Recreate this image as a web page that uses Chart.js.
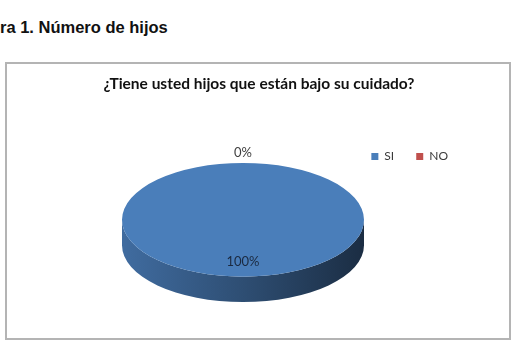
<!DOCTYPE html>
<html lang="es">
<head>
<meta charset="utf-8">
<title>Número de hijos</title>
<script src="https://cdn.jsdelivr.net/npm/chart.js@4.4.1/dist/chart.umd.min.js"></script>
<style>
  body { margin: 0; background: #fff; width: 516px; height: 342px; overflow: hidden; position: relative; }
  #caption { position: absolute; left: 0; top: 17px; font: bold 16.5px/20px "Liberation Sans", Arial, sans-serif; color: #111; white-space: nowrap; }
  #frame { position: absolute; left: 5px; top: 62px; width: 506px; height: 278px; box-sizing: border-box; border: 2px solid #b4b4b4; }
  #frame canvas { display: block; }
</style>
</head>
<body>
<div id="caption">ra 1. Número de hijos</div>
<div id="frame"><canvas id="hijosChart" width="502" height="274"></canvas></div>
<script>
const categories = ['SI', 'NO'];
const percentages = [100, 0];
const sliceColors = ['#4a7eba', '#c0504d'];
const chartTitle = '¿Tiene usted hijos que están bajo su cuidado?';

// Excel-like tilt: height of the top face and of the rim, relative to its width
const TILT = 0.47;
const DEPTH = 0.21;

function shade(hex, k) {
    const n = parseInt(hex.slice(1), 16);
    const r = Math.round(((n >> 16) & 255) * k);
    const g = Math.round(((n >> 8) & 255) * k);
    const b = Math.round((n & 255) * k);
    return `rgb(${r}, ${g}, ${b})`;
}

// the flat pie is stretched to fill the plot area width
function ellipseOf(chart, arc) {
    const rx = chart.chartArea.width / 2;
    return { cx: arc.x, cy: arc.y, rx: rx, ry: rx * TILT, depth: rx * DEPTH };
}

// empty boxes left and right of the plot, like Excel's inner plot area
const plotInset = {
    id: 'plotInset',
    beforeInit(chart, args, opts) {
        ['left', 'right'].forEach(side => {
            Chart.layouts.addBox(chart, {
                position: side, weight: 100, fullSize: false, options: {},
                width: 0, height: 0, left: 0, top: 0, right: 0, bottom: 0,
                isHorizontal: () => false,
                getPadding: () => ({ top: 0, left: 0, bottom: 0, right: 0 }),
                update(maxWidth, maxHeight) { this.width = opts[side] || 0; this.height = maxHeight; },
                draw() {}
            });
        });
    }
};

// rim below the front half of each slice, then squash the circle into an ellipse
const pie3d = {
    id: 'pie3d',
    beforeDatasetsDraw(chart) {
        const ctx = chart.ctx;
        const arcs = chart.getDatasetMeta(0).data;
        if (!arcs.length) return;
        const e = ellipseOf(chart, arcs[0]);
        const TAU = Math.PI * 2;

        arcs.forEach((arc, i) => {
            const off = Math.floor(arc.startAngle / TAU) * TAU;
            const a1 = arc.startAngle - off;
            const a2 = arc.endAngle - off;
            const grad = ctx.createLinearGradient(e.cx - e.rx, 0, e.cx + e.rx, 0);
            grad.addColorStop(0, shade(sliceColors[i], 0.86));
            grad.addColorStop(0.5, shade(sliceColors[i], 0.62));
            grad.addColorStop(1, shade(sliceColors[i], 0.36));
            [0, TAU].forEach(k => {
                const lo = Math.max(a1, k);
                const hi = Math.min(a2, k + Math.PI);
                if (hi <= lo) return;
                ctx.beginPath();
                ctx.ellipse(e.cx, e.cy, e.rx, e.ry, 0, lo, hi);
                ctx.ellipse(e.cx, e.cy + e.depth, e.rx, e.ry, 0, hi, lo, true);
                ctx.closePath();
                ctx.fillStyle = grad;
                ctx.fill();
            });
        });

        const r = arcs[0].outerRadius;
        ctx.save();
        ctx.translate(e.cx, e.cy);
        ctx.scale(e.rx / r, e.ry / r);
        ctx.translate(-e.cx, -e.cy);
    },
    afterDatasetsDraw(chart) {
        const ctx = chart.ctx;
        ctx.restore();
        const arcs = chart.getDatasetMeta(0).data;
        if (!arcs.length) return;
        const e = ellipseOf(chart, arcs[0]);
        const total = percentages.reduce((a, b) => a + b, 0);

        ctx.save();
        ctx.font = '13px Lato';
        ctx.textAlign = 'center';
        ctx.textBaseline = 'middle';
        arcs.forEach((arc, i) => {
            const share = percentages[i] / total;
            const mid = (arc.startAngle + arc.endAngle) / 2;
            const outside = share < 0.05;
            const f = outside ? 1 : 0.74;
            const gap = outside ? 10 : 0;
            const x = e.cx + Math.cos(mid) * (e.rx * f + gap);
            const y = e.cy + Math.sin(mid) * (e.ry * f + gap);
            ctx.fillStyle = outside ? '#404040' : '#1b2a40';
            ctx.fillText(Math.round(share * 100) + '%', x, y);
        });
        ctx.restore();
    }
};

const ctx = document.getElementById('hijosChart').getContext('2d');
const hijosChart = new Chart(ctx, {
    type: 'pie',
    data: {
        labels: categories,
        datasets: [{
            data: percentages,
            backgroundColor: sliceColors,
            borderWidth: 0,
            clip: false
        }]
    },
    options: {
        responsive: false,
        animation: false,
        devicePixelRatio: 1,
        layout: {
            padding: { left: 41, right: 39, top: 0, bottom: 71 }
        },
        plugins: {
            plotInset: { left: 74, right: 106 },
            title: {
                display: true,
                text: chartTitle,
                color: '#111',
                font: { family: 'Lato', size: 15.5, weight: 'bold' },
                padding: { top: 11, bottom: 35 }
            },
            legend: {
                display: true,
                position: 'top',
                align: 'end',
                labels: {
                    boxWidth: 7,
                    boxHeight: 7,
                    padding: 22,
                    color: '#3a3a3a',
                    font: { family: 'Lato', size: 12 }
                }
            },
            tooltip: { enabled: false }
        }
    },
    plugins: [plotInset, pie3d]
});
</script>
</body>
</html>
